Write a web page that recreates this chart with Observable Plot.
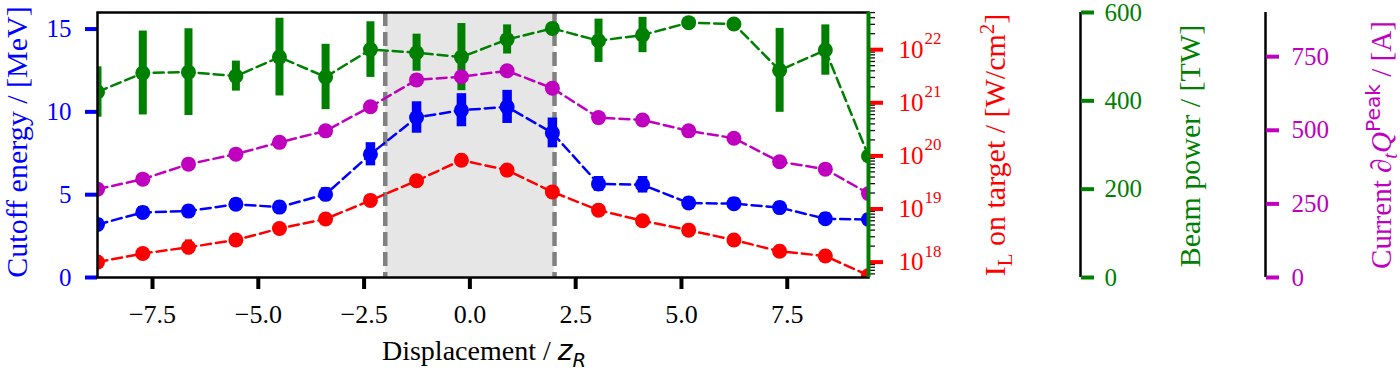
<!DOCTYPE html>
<html><head><meta charset="utf-8">
<script src="https://cdn.jsdelivr.net/npm/d3@7"></script>
<script src="https://cdn.jsdelivr.net/npm/@observablehq/plot@0.6"></script>
<style>
body{margin:0;background:#fff;}
#chart{position:relative;width:1400px;height:370px;font-family:"Liberation Serif","Times New Roman",serif;}
#chart svg{position:absolute;left:0;top:0;max-width:none;}
.lab{position:absolute;white-space:nowrap;font-size:30px;line-height:1;transform:translate(-50%,-50%) rotate(-90deg);}
.xlab{position:absolute;white-space:nowrap;font-size:28px;line-height:1;transform:translate(-50%,-50%);}
.sans{font-family:"DejaVu Sans",sans-serif;}
sub,sup{font-size:0.7em;line-height:0;}
</style></head><body><div id="chart"></div>
<script>
// ---- data ----
const displacement = [-8.8, -7.73, -6.65, -5.53, -4.5, -3.41, -2.35, -1.26, -0.2, 0.88, 1.95, 3.04, 4.08, 5.17, 6.24, 7.32, 8.4, 9.42];
const cutoffEnergy = [3.2, 3.93, 4.01, 4.42, 4.25, 5.02, 7.44, 9.66, 10.1, 10.3, 8.73, 5.65, 5.6, 4.5, 4.46, 4.22, 3.55, 3.5];
const cutoffErr    = [0.35, 0.35, 0.35, 0.35, 0.35, 0.4, 0.7, 0.95, 1.0, 1.0, 0.9, 0.45, 0.5, 0.35, 0.35, 0.35, 0.35, 0.35];
const intensity    = [1.0e18, 1.45e18, 1.9e18, 2.6e18, 4.3e18, 6.5e18, 1.45e19, 3.4e19, 8.3e19, 5.4e19, 2.1e19, 9.5e18, 6.0e18, 4.0e18, 2.6e18, 1.6e18, 1.3e18, 5.6e17];
const intensityErrFactor = [1.3, 1.3, 1.38, 1.3, 1.3, 1.3, 1.3, 1.3, 1.3, 1.3, 1.3, 1.3, 1.3, 1.3, 1.3, 1.3, 1.3, 1.3];
const beamPower    = [420, 463, 465, 456, 499, 454, 516, 509, 499, 539, 564, 536, 549, 577, 574, 469, 515, 275];
const beamPowerErr = [57, 95, 98, 34, 88, 74, 63, 42, 76, 33, 10, 49, 40, 10, 10, 95, 57, 10];
const peakCurrent  = [300, 334, 385, 419, 459, 498, 580, 671, 682, 702, 643, 543, 535, 498, 473, 393, 368, 285];
const focusRegion = [-2, 2];
const xTicks = [-7.5, -5, -2.5, 0, 2.5, 5, 7.5];
const energyTicks = [0, 5, 10, 15];
const intensityExponents = [18, 19, 20, 21, 22];
const powerTicks = [0, 200, 400, 600];
const currentTicks = [0, 250, 500, 750];
const xDomain = [-8.8, 9.42];
const energyDomain = [0, 16];
const intensityDomain = [10 ** 17.71, 10 ** 22.7];
const powerDomain = [0, 600];
const currentDomain = [0, 900];

const BLUE = "#0000ff", RED = "#ff0000", GREEN = "#008000", MAG = "#bf00bf";

const rows = displacement.map((x, i) => ({
  x, e: cutoffEnergy[i], eErr: cutoffErr[i],
  I: intensity[i], If: intensityErrFactor[i],
  P: beamPower[i], pErr: beamPowerErr[i],
  C: peakCurrent[i]
}));
const minorIntensity = [];
for (let k = 17; k <= 22; k++) for (let m = 2; m <= 9; m++) {
  const v = m * 10 ** k;
  if (v >= intensityDomain[0] && v <= intensityDomain[1]) minorIntensity.push(v);
}

const base = {
  width: 1400, height: 370,
  marginTop: 12, marginBottom: 93, marginLeft: 97, marginRight: 532,
  style: {background: "transparent", fontFamily: "Liberation Serif, serif", fontSize: "25px", overflow: "visible"},
  x: {domain: xDomain, axis: null}
};
const dash = "10,5";

function series(yKey, color, errMarks) {
  return [
    ...errMarks,
    Plot.line(rows, {x: "x", y: yKey, stroke: color, strokeWidth: 2.5, strokeDasharray: dash, clip: true}),
    Plot.dot(rows, {x: "x", y: yKey, r: 7.5, fill: color, stroke: "none", clip: true})
  ];
}

// Layer 1: blue + x-axis + shading
const p1 = Plot.plot({
  ...base,
  y: {domain: energyDomain, axis: null},
  marks: [
    Plot.rect([focusRegion], {x1: d => d[0], x2: d => d[1], fill: "#e6e6e6"}),
    Plot.ruleX(focusRegion, {stroke: "#808080", strokeWidth: 4.5, strokeDasharray: "14,6"}),
    Plot.axisX({ticks: xTicks, tickSize: 12, tickPadding: 15, strokeWidth: 4, tickFormat: d3.format(".1f"), fontSize: 26, label: null}),
    Plot.axisY({ticks: energyTicks, anchor: "left", tickSize: 12, tickPadding: 14, strokeWidth: 4, stroke: BLUE, fill: BLUE, fontSize: 25, label: null}),
    ...series("e", BLUE, [
      Plot.ruleX(rows, {x: "x", y1: d => d.e - d.eErr, y2: d => d.e + d.eErr, stroke: BLUE, strokeWidth: 9.5, clip: true})
    ])
  ]
});

// Layer 2: red (log)
const p2 = Plot.plot({
  ...base,
  y: {type: "log", domain: intensityDomain, axis: null},
  marks: [
    Plot.axisY({ticks: minorIntensity, anchor: "right", tickSize: 6, strokeWidth: 1.3, stroke: "#111", tickFormat: () => "", label: null}),
    Plot.axisY({ticks: intensityExponents.map(k => 10 ** k), anchor: "right", tickSize: 14, strokeWidth: 4, stroke: RED, tickFormat: () => "", label: null}),
    Plot.text(intensityExponents, {y: d => 10 ** d, text: () => "10", frameAnchor: "right", textAnchor: "start", dx: 30, fill: RED, fontSize: 25}),
    Plot.text(intensityExponents, {y: d => 10 ** d, text: d => String(d), frameAnchor: "right", textAnchor: "start", dx: 56, dy: -11, fill: RED, fontSize: 17}),
    ...series("I", RED, [
      Plot.ruleX(rows, {x: "x", y1: d => d.I / d.If, y2: d => d.I * d.If, stroke: RED, strokeWidth: 7, clip: true})
    ])
  ]
});

// Layer 3: green
const p3 = Plot.plot({
  ...base,
  y: {domain: powerDomain, axis: null},
  marks: [
    Plot.ruleX([xDomain[1]], {dx: 212, stroke: "black", strokeWidth: 2.5}),
    Plot.axisY({ticks: powerTicks, anchor: "right", dx: 212, tickSize: 13, tickPadding: 11, strokeWidth: 4, stroke: GREEN, fill: GREEN, fontSize: 25, label: null}),
    ...series("P", GREEN, [
      Plot.ruleX(rows, {x: "x", y1: d => d.P - d.pErr, y2: d => d.P + d.pErr, stroke: GREEN, strokeWidth: 8, clip: true})
    ])
  ]
});

// Layer 4: magenta + frame
const p4 = Plot.plot({
  ...base,
  y: {domain: currentDomain, axis: null},
  marks: [
    Plot.ruleX([xDomain[1]], {dx: 397, stroke: "black", strokeWidth: 2.5}),
    Plot.axisY({ticks: currentTicks, anchor: "right", dx: 397, tickSize: 13, tickPadding: 13, strokeWidth: 4, stroke: MAG, fill: MAG, fontSize: 25, label: null}),
    ...series("C", MAG, []),
    Plot.frame({stroke: "black", strokeWidth: 2.5}),
    Plot.ruleX([xDomain[1]], {stroke: GREEN, strokeWidth: 4})
  ]
});

const chart = document.getElementById("chart");
[p1, p2, p3, p4].forEach(p => chart.appendChild(p));

function addLabel(html, left, top, color, cls, size) {
  const d = document.createElement("div");
  d.className = cls || "lab";
  d.style.left = left + "px";
  d.style.top = top + "px";
  d.style.color = color;
  if (size) d.style.fontSize = size + "px";
  d.innerHTML = html;
  chart.appendChild(d);
}
addLabel("Cutoff energy / [MeV]", 17, 142, BLUE);
addLabel("I<sub>L</sub> on target / [W/cm<sup>2</sup>]", 995, 145, RED);
addLabel("Beam power / [TW]", 1190, 146, GREEN);
addLabel("Current <i>∂<sub>t</sub>Q</i><sup class='sans'>Peak</sup> / [A]", 1381, 145, MAG, "lab", 29);
addLabel("Displacement / <i class='sans'>z<sub>R</sub></i>", 484, 351, "black", "xlab");
</script></body></html>
